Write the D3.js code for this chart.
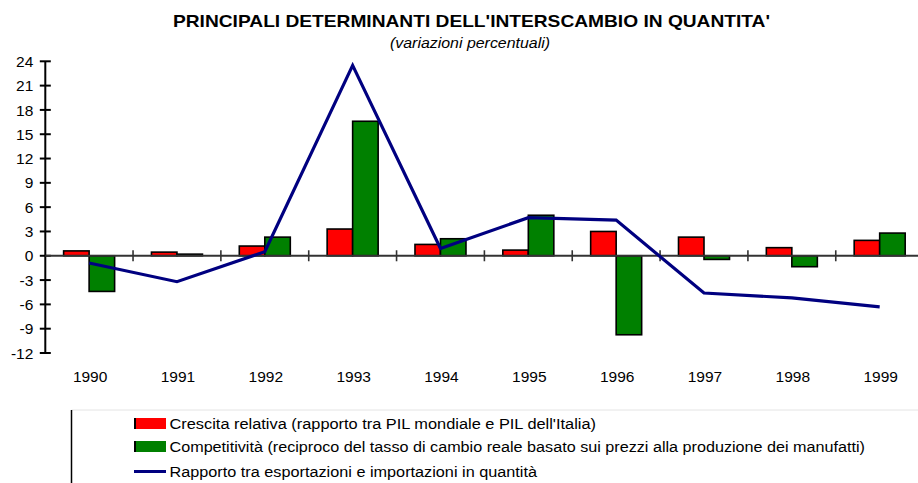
<!DOCTYPE html>
<html>
<head>
<meta charset="utf-8">
<script src="https://cdn.jsdelivr.net/npm/d3@7"></script>
<style>
  body { margin: 0; background: #fff; }
  text { font-family: Arial, "Liberation Sans", sans-serif; fill: #000; }
</style>
</head>
<body>
<svg id="chart" width="918" height="483"></svg>
<script>
var years = ["1990", "1991", "1992", "1993", "1994", "1995", "1996", "1997", "1998", "1999"];
var crescita = [0.6, 0.45, 1.2, 3.3, 1.4, 0.7, 3.0, 2.3, 1.0, 1.9];
var competitivita = [-4.4, 0.2, 2.3, 16.6, 2.1, 5.0, -9.75, -0.45, -1.35, 2.8];
var rapporto = [-0.9, -3.2, 0.5, 23.5, 0.9, 4.7, 4.4, -4.6, -5.2, -6.3];
var yTicks = [-12, -9, -6, -3, 0, 3, 6, 9, 12, 15, 18, 21, 24];
var seriesNames = [
  "Crescita relativa (rapporto tra PIL mondiale e PIL dell'Italia)",
  "Competitività (reciproco del tasso di cambio reale basato sui prezzi alla produzione dei manufatti)",
  "Rapporto tra esportazioni e importazioni in quantità"
];
var barColors = ["#ff0000", "#008000"];
var lineColor = "#000080";

var svg = d3.select("#chart");

var x = d3.scaleBand().domain(years).range([45.2, 923.6]).padding(0);
var y = d3.scaleLinear().domain([-12, 24]).range([353, 61.3]);
var x1 = d3.scaleBand().domain([0, 1]).range([-25.5, 25.5]);

// title
svg.append("text")
    .attr("x", 471.5).attr("y", 27)
    .attr("text-anchor", "middle")
    .attr("font-weight", "bold")
    .attr("font-size", 17)
    .attr("textLength", 597)
    .attr("lengthAdjust", "spacingAndGlyphs")
    .text("PRINCIPALI DETERMINANTI DELL'INTERSCAMBIO IN QUANTITA'");

svg.append("text")
    .attr("x", 470).attr("y", 48)
    .attr("text-anchor", "middle")
    .attr("font-style", "italic")
    .attr("font-size", 15.5)
    .attr("textLength", 160)
    .attr("lengthAdjust", "spacingAndGlyphs")
    .text("(variazioni percentuali)");

// y axis
var yAxis = svg.append("g").attr("transform", "translate(45.3,0)");
yAxis.append("line")
    .attr("y1", y(24)).attr("y2", y(-12))
    .attr("stroke", "#000").attr("stroke-width", 2);
var yt = yAxis.selectAll(".yt").data(yTicks).enter().append("g")
    .attr("transform", function(d) { return "translate(0," + y(d) + ")"; });
yt.append("line").attr("x1", -5.5).attr("x2", 5.5)
    .attr("stroke", "#000").attr("stroke-width", 2);
yt.append("text")
    .attr("x", -12).attr("dy", "0.36em")
    .attr("text-anchor", "end")
    .attr("font-size", 15.5)
    .text(function(d) { return d; });

// bars
var groups = svg.selectAll(".grp").data(years).enter().append("g")
    .attr("transform", function(d) { return "translate(" + (x(d) + x.bandwidth() / 2) + ",0)"; });

groups.selectAll("rect")
    .data(function(d, i) { return [crescita[i], competitivita[i]]; })
  .enter().append("rect")
    .attr("x", function(d, j) { return x1(j); })
    .attr("width", x1.bandwidth())
    .attr("y", function(d) { return y(Math.max(0, d)); })
    .attr("height", function(d) { return Math.abs(y(d) - y(0)); })
    .attr("fill", function(d, j) { return barColors[j]; })
    .attr("stroke", "#000").attr("stroke-width", 1.6);

// zero axis with category ticks
svg.append("line")
    .attr("x1", 45.3).attr("x2", 918)
    .attr("y1", y(0)).attr("y2", y(0))
    .attr("stroke", "#333").attr("stroke-width", 2);
svg.selectAll(".xt").data(years.slice(1)).enter().append("line")
    .attr("x1", function(d) { return x(d); })
    .attr("x2", function(d) { return x(d); })
    .attr("y1", y(0) - 5.5).attr("y2", y(0) + 5.5)
    .attr("stroke", "#333").attr("stroke-width", 1.6);

svg.selectAll(".xl").data(years).enter().append("text")
    .attr("x", function(d) { return x(d) + x.bandwidth() / 2 + 1; })
    .attr("y", 382)
    .attr("text-anchor", "middle")
    .attr("font-size", 15.5)
    .text(function(d) { return d; });

// line
var line = d3.line()
    .x(function(d, i) { return x(years[i]) + x.bandwidth() / 2; })
    .y(function(d) { return y(d); });
svg.append("path")
    .datum(rapporto)
    .attr("d", line)
    .attr("fill", "none")
    .attr("stroke", lineColor)
    .attr("stroke-width", 3.2)
    .attr("stroke-linejoin", "miter");

// legend
svg.append("line")
    .attr("x1", 71.5).attr("x2", 918).attr("y1", 410).attr("y2", 410)
    .attr("stroke", "#e4e4e4").attr("stroke-width", 1);
svg.append("line")
    .attr("x1", 71.5).attr("x2", 71.5).attr("y1", 410).attr("y2", 483)
    .attr("stroke", "#000").attr("stroke-width", 1.5);

var rowsY = [423.5, 446.5, 471.5];
var rowEnds = [596, 865, 537];
var leg = svg.selectAll(".leg").data(seriesNames).enter().append("g")
    .attr("transform", function(d, i) { return "translate(0," + rowsY[i] + ")"; });
leg.filter(function(d, i) { return i < 2; }).append("rect")
    .attr("x", 134).attr("y", -5.5).attr("width", 32).attr("height", 11)
    .attr("fill", function(d, i) { return barColors[i]; });
leg.filter(function(d, i) { return i < 2; }).append("rect")
    .attr("x", 134).attr("y", -5.5).attr("width", 2).attr("height", 11)
    .attr("fill", "#000");
leg.filter(function(d, i) { return i === 2; }).append("line")
    .attr("x1", 134).attr("x2", 166).attr("y1", 0).attr("y2", 0)
    .attr("stroke", lineColor).attr("stroke-width", 3);
leg.append("text")
    .attr("x", 169.5).attr("dy", "0.36em")
    .attr("font-size", 15.5)
    .attr("textLength", function(d, i) { return rowEnds[i] - 169.5; })
    .attr("lengthAdjust", "spacingAndGlyphs")
    .text(function(d) { return d; });
</script>
</body>
</html>
